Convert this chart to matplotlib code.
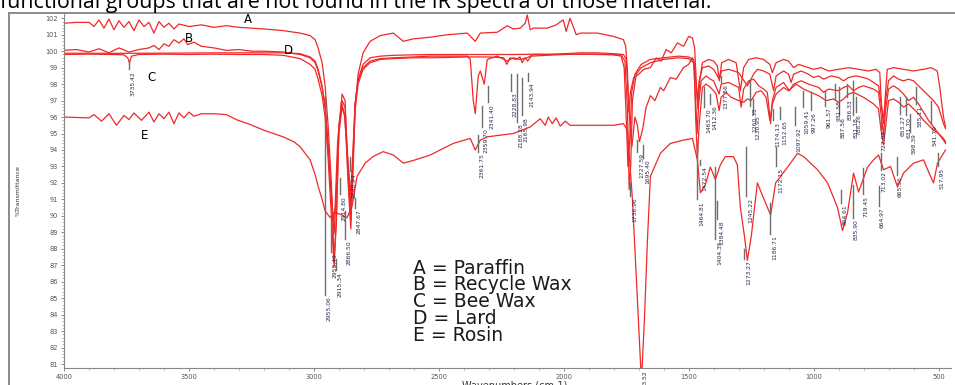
import matplotlib.pyplot as plt
from matplotlib.lines import Line2D

# spectra: wavenumber (cm-1), %T
wn_a = [4000, 3950, 3900, 3880, 3860, 3840, 3820, 3800, 3780, 3760, 3740, 3720, 3700, 3680, 3660, 3640,
        3620, 3600, 3580, 3560, 3540, 3500, 3450, 3400, 3350, 3300, 3200, 3123, 3055, 3015, 2995, 2983,
        2967, 2955, 2943, 2930, 2919, 2910, 2900, 2887, 2875, 2865, 2852, 2845, 2835, 2823, 2803, 2775,
        2734, 2682, 2642, 2602, 2534, 2466, 2386, 2354, 2334, 2266, 2226, 2202, 2174, 2154, 2146, 2134,
        2122, 2066, 2030, 2002, 1990, 1975, 1962, 1950, 1933, 1865, 1801, 1761, 1752, 1745, 1740, 1733,
        1720, 1700, 1680, 1653, 1630, 1610, 1590, 1570, 1545, 1520, 1500, 1485, 1476, 1469, 1463, 1456,
        1445, 1420, 1400, 1385, 1377, 1368, 1340, 1310, 1293, 1280, 1260, 1230, 1200, 1175, 1165, 1150,
        1120, 1100, 1080, 1060, 1040, 1000, 970, 940, 900, 860, 820, 780, 750, 735, 728, 720, 712,
        705, 680, 640, 600, 560, 530, 505, 495, 480, 472]
t_a = [101.7, 101.75, 101.75, 101.5, 101.9, 101.4, 101.95, 101.3, 101.85, 101.45, 101.8, 101.25, 101.9,
       101.5, 101.75, 101.1, 101.8, 101.45, 101.7, 101.35, 101.65, 101.5, 101.6, 101.45, 101.55, 101.45,
       101.35, 101.25, 101.1, 100.95, 100.7, 100.2, 99.3, 97.9, 95.5, 92.0, 87.3, 89.5, 95.0, 97.4, 97.0,
       93.0, 89.7, 92.0, 96.5, 98.6, 99.9, 100.6, 100.95, 101.1, 100.6, 100.75, 100.85, 101.0, 101.1,
       100.6, 101.1, 101.15, 101.55, 101.35, 101.4, 101.7, 102.2, 101.3, 101.4, 101.4, 101.6, 101.9,
       101.2, 102.0, 101.5, 101.0, 101.1, 101.1, 100.9, 100.7, 100.3, 98.8, 96.3, 97.5, 98.4, 98.6, 98.9,
       99.0, 99.6, 99.4, 100.1, 99.9, 100.5, 100.3, 100.9, 100.8, 100.2, 98.0, 96.5, 98.2, 99.3, 99.5,
       99.4, 99.1, 98.2, 99.3, 99.5, 99.3, 97.6, 99.0, 99.5, 99.6, 99.5, 99.2, 98.7, 99.3, 99.5, 99.4,
       99.0, 99.2, 99.1, 98.9, 99.0, 98.8, 98.9, 99.0, 98.9, 98.8, 98.9, 98.7, 96.6, 95.6, 97.5, 98.9,
       99.0, 98.9, 98.8, 98.9, 99.0, 98.8, 97.8, 96.0, 95.4]

wn_b = [4000, 3950, 3900, 3860, 3820, 3780, 3740, 3700, 3660, 3640, 3620, 3600, 3580, 3560, 3540, 3520,
        3505, 3480, 3450, 3400, 3350, 3300, 3250, 3200, 3123, 3055, 3015, 2995, 2983, 2967, 2955, 2943,
        2930, 2919, 2910, 2900, 2887, 2875, 2863, 2852, 2845, 2835, 2823, 2803, 2775, 2734, 2682, 2602,
        2534, 2466, 2386, 2374, 2362, 2354, 2342, 2334, 2318, 2306, 2266, 2226, 2202, 2174, 2146, 2122,
        2066, 2002, 1933, 1865, 1801, 1761, 1750, 1740, 1733, 1727, 1715, 1705, 1697, 1685, 1670, 1653,
        1635, 1613, 1600, 1573, 1550, 1521, 1500, 1485, 1478, 1472, 1465, 1458, 1445, 1430, 1413, 1400,
        1390, 1378, 1370, 1350, 1330, 1300, 1280, 1265, 1250, 1230, 1210, 1190, 1175, 1165, 1150, 1120,
        1100, 1070, 1040, 1010, 980, 950, 920, 900, 880, 860, 840, 800, 780, 760, 740, 730, 720, 712,
        700, 680, 660, 640, 620, 600, 580, 560, 540, 520, 500, 480, 472]
t_b = [100.05, 100.1, 99.95, 100.15, 99.9, 100.2, 99.95, 100.1, 100.2, 100.35, 100.1, 100.45, 100.3,
       100.7, 100.5, 100.75, 100.4, 100.55, 100.3, 100.2, 100.05, 100.1, 100.0, 100.0, 99.95, 99.8, 99.6,
       99.3, 98.8, 97.8, 96.8, 94.5, 91.0, 88.9, 91.5, 95.5, 97.0, 96.6, 93.0, 90.4, 93.0, 96.8, 98.2,
       99.0, 99.4, 99.55, 99.6, 99.65, 99.7, 99.7, 99.7, 99.5, 97.0, 96.2, 98.5, 98.8, 98.0, 99.5, 99.7,
       99.4, 99.6, 99.5, 99.6, 99.8, 99.8, 99.85, 99.9, 99.9, 99.85, 99.8, 99.5, 97.0, 95.0, 94.2, 96.0,
       95.5, 94.5, 95.2, 96.6, 97.3, 97.0, 97.8, 97.6, 98.4, 98.3, 99.0, 99.2, 99.6, 99.2, 96.0, 93.5,
       95.5, 97.8, 98.0, 97.8, 97.6, 97.4, 96.4, 97.2, 97.5, 97.2, 97.0, 96.9, 97.1, 97.0, 97.5, 97.6,
       97.2, 95.8, 96.8, 97.4, 97.8, 97.6, 98.0, 97.7, 97.5, 97.3, 97.0, 97.1, 96.9, 97.1, 97.4, 97.5,
       97.2, 97.0, 96.8, 96.5, 95.2, 94.3, 95.4, 97.0, 97.1, 96.9, 96.6, 96.8, 96.5, 96.2, 95.8, 95.5,
       95.2, 95.0, 94.6, 94.4]

wn_c = [4000, 3900, 3800, 3760, 3745, 3738, 3730, 3700, 3600, 3500, 3400, 3300, 3200, 3123, 3055, 3015,
        2995, 2983, 2967, 2955, 2943, 2930, 2919, 2910, 2900, 2887, 2875, 2863, 2852, 2845, 2835, 2823,
        2803, 2775, 2734, 2682, 2602, 2534, 2466, 2386, 2300, 2240, 2228, 2215, 2190, 2175, 2166, 2155,
        2144, 2130, 2066, 2002, 1933, 1865, 1801, 1770, 1755, 1745, 1738, 1732, 1725, 1710, 1690, 1653,
        1600, 1540, 1500, 1480, 1472, 1466, 1460, 1450, 1430, 1413, 1400, 1378, 1370, 1340, 1300, 1290,
        1280, 1260, 1240, 1220, 1200, 1185, 1172, 1165, 1150, 1120, 1097, 1080, 1050, 1020, 1000, 980,
        960, 940, 900, 880, 860, 840, 820, 800, 780, 760, 740, 730, 720, 712, 700, 680, 660, 640, 620,
        600, 580, 560, 540, 520, 500, 480, 472]
t_c = [99.8, 99.82, 99.8, 99.78, 99.6, 99.3, 99.7, 99.8, 99.82, 99.8, 99.82, 99.8, 99.8, 99.75, 99.55,
       99.2, 98.9, 98.3, 97.3, 96.0, 93.5, 90.0, 86.9, 90.0, 95.0, 96.6, 96.0, 92.0, 89.2, 92.5, 96.4,
       98.0, 98.9, 99.3, 99.5, 99.55, 99.6, 99.6, 99.62, 99.65, 99.65, 99.6, 99.2, 99.6, 99.5, 99.65,
       99.3, 99.6, 99.4, 99.7, 99.75, 99.8, 99.82, 99.82, 99.8, 99.75, 99.4, 96.5, 91.6, 93.0, 97.0,
       98.6, 99.0, 99.3, 99.5, 99.6, 99.55, 99.3, 97.0, 95.0, 96.8, 98.2, 98.5, 98.3, 98.2, 97.4, 98.0,
       98.1, 97.8, 96.6, 97.7, 98.2, 98.3, 97.9, 97.7, 97.5, 95.6, 97.0, 97.8, 98.1, 97.6, 98.0, 98.2,
       98.0, 97.9, 97.8, 97.5, 97.7, 97.6, 97.8, 97.9, 97.6, 97.8, 97.9, 97.8, 97.7, 97.5, 96.2, 94.9,
       96.4, 97.7, 97.9, 97.7, 97.4, 97.0, 97.2, 96.8, 96.3, 95.8, 95.4, 95.0, 94.7, 94.5]

wn_d = [4000, 3800, 3600, 3400, 3300, 3200, 3107, 3055, 3015, 2995, 2983, 2967, 2955, 2943, 2930, 2922,
        2915, 2905, 2890, 2878, 2863, 2853, 2845, 2835, 2823, 2803, 2775, 2734, 2682, 2602, 2534, 2466,
        2386, 2300, 2200, 2100, 2000, 1933, 1865, 1801, 1770, 1758, 1750, 1743, 1736, 1728, 1715, 1690,
        1653, 1600, 1540, 1500, 1480, 1472, 1465, 1458, 1445, 1420, 1400, 1378, 1368, 1340, 1300, 1265,
        1240, 1225, 1200, 1175, 1160, 1150, 1120, 1100, 1090, 1080, 1050, 1020, 1000, 980, 960, 930,
        900, 880, 860, 830, 800, 780, 760, 740, 730, 720, 712, 700, 680, 660, 640, 620, 600, 580, 560,
        540, 520, 500, 480, 472]
t_d = [99.88, 99.87, 99.88, 99.9, 99.9, 99.9, 99.9, 99.85, 99.65, 99.4, 98.9, 97.9, 96.5, 94.0, 91.5,
       89.7, 90.5, 94.5, 96.9, 96.2, 93.2, 91.3, 93.5, 96.8, 98.3, 99.2, 99.6, 99.7, 99.75, 99.78, 99.8,
       99.8, 99.8, 99.8, 99.8, 99.82, 99.8, 99.82, 99.8, 99.78, 99.7, 99.0, 96.0, 93.0, 94.5, 97.5,
       98.6, 99.2, 99.5, 99.6, 99.7, 99.65, 99.5, 98.3, 97.0, 98.2, 99.0, 99.1, 98.9, 98.3, 98.8, 98.9,
       98.7, 97.9, 98.6, 98.9, 98.8, 98.6, 97.6, 98.5, 98.8, 98.6, 98.1, 98.6, 98.8, 98.6, 98.4, 98.5,
       98.3, 98.5, 98.4, 98.2, 98.4, 98.5, 98.4, 98.3, 98.1, 97.9, 96.9, 95.8, 97.0, 98.2, 98.5, 98.3,
       98.2, 98.3, 98.2, 97.9, 97.6, 97.3, 97.0, 96.6, 95.6, 95.3]

wn_e = [4000, 3900, 3880, 3850, 3820, 3790, 3760, 3740, 3720, 3690, 3660, 3640, 3620, 3600, 3580, 3560,
        3540, 3520, 3500, 3480, 3450, 3400, 3350, 3307, 3255, 3200, 3123, 3080, 3055, 3015, 2995, 2983,
        2967, 2955, 2935, 2920, 2895, 2867, 2847, 2827, 2795, 2763, 2723, 2682, 2642, 2594, 2534, 2442,
        2374, 2354, 2334, 2306, 2202, 2134, 2094, 2074, 2062, 2046, 2030, 2014, 1994, 1974, 1893, 1801,
        1761, 1745, 1725, 1705, 1689, 1677, 1665, 1653, 1613, 1573, 1521, 1485, 1465, 1453, 1433, 1413,
        1393, 1373, 1353, 1321, 1305, 1293, 1277, 1265, 1249, 1225, 1201, 1172, 1152, 1104, 1064, 1040,
        1012, 984, 944, 904, 884, 864, 840, 820, 784, 760, 740, 720, 692, 664, 640, 600, 560, 532, 520,
        504, 472]
t_e = [96.0, 95.95, 96.15, 95.75, 96.2, 95.5, 96.1, 95.85, 96.25, 95.8, 96.3, 95.7, 96.2, 95.9, 96.3,
       95.6, 96.25, 95.95, 96.3, 96.05, 96.2, 96.2, 96.15, 95.82, 95.55, 95.2, 94.8, 94.5, 94.2, 93.4,
       92.5, 91.8, 91.0, 90.3, 89.9, 90.2, 90.1, 89.9, 90.6, 92.4, 93.2, 93.6, 93.9, 93.7, 93.2, 93.4,
       93.7, 94.4, 94.7, 94.0, 94.6, 94.8, 95.0, 95.4, 95.9, 95.5, 96.0, 95.6, 95.95, 95.45, 95.75, 95.5,
       95.5, 95.5, 95.6, 95.2, 91.0, 84.9, 79.9, 83.7, 88.5, 92.4, 93.8, 94.4, 94.6, 94.7, 93.4, 91.4,
       91.9, 92.96, 92.2, 93.1, 93.6, 93.6, 93.1, 90.5, 88.8, 87.3, 88.8, 92.0, 91.1, 90.05, 92.0, 92.96,
       93.8, 93.6, 93.2, 92.8, 92.0, 90.5, 89.1, 90.2, 92.6, 91.45, 92.96, 93.4, 93.7, 92.8, 93.0, 91.75,
       92.6, 93.2, 93.4, 92.4, 92.0, 93.2, 94.0]

# curve letters
letter_txt = ["A", "B", "C", "D", "E"]
letter_wn = [3265, 3500, 3648, 3100, 3677]
letter_t = [101.9, 100.8, 98.4, 100.05, 94.85]

legend_lines = ["A = Paraffin", "B = Recycle Wax", "C = Bee Wax", "D = Lard", "E = Rosin"]

# peak markers: wavenumber, top and bottom of the grey line (%T), label
peak_wn = [3740, 2955, 2931, 2911, 2895, 2875, 2855, 2835, 2342, 2326, 2302, 2210, 2186, 2166, 2142,
           1733, 1705, 1681, 1465, 1453, 1437, 1413, 1393, 1385, 1369, 1253, 1241, 1277, 1269, 1173,
           1161, 1149, 1133, 1076, 1044, 1012, 955, 915, 899, 891, 868, 844, 844, 832, 804, 732, 732,
           740, 668, 656, 632, 616, 592, 532, 504]
peak_top = [99.4, 97.2, 89.8, 87.4, 92.3, 90.3, 93.6, 91.1, 94.9, 96.7, 97.9, 98.6, 98.6, 98.4, 98.7,
            92.0, 94.6, 94.3, 94.3, 93.4, 97.8, 97.4, 92.96, 90.9, 98.5, 98.2, 97.1, 88.0, 94.2, 90.8,
            96.5, 94.2, 96.6, 96.6, 97.6, 97.5, 97.6, 98.0, 97.8, 91.6, 98.0, 91.9, 98.2, 97.2, 92.9,
            96.0, 93.8, 91.8, 93.6, 97.2, 97.2, 96.2, 97.8, 97.0, 93.8]
peak_bot = [98.9, 85.2, 87.8, 86.7, 91.3, 88.6, 92.7, 90.5, 93.9, 95.4, 96.9, 97.6, 95.7, 96.1, 98.2,
            91.2, 93.9, 93.5, 91.0, 93.1, 96.6, 96.8, 88.6, 89.8, 98.1, 96.7, 96.2, 87.4, 91.2, 88.9,
            95.8, 93.0, 95.9, 95.5, 96.6, 96.4, 96.7, 97.1, 96.1, 90.8, 97.2, 89.9, 96.1, 96.3, 91.3,
            95.3, 92.8, 90.6, 92.5, 96.2, 96.1, 95.1, 96.8, 95.6, 93.0]
peak_txt = ["3735.42", "2955.06", "2955.49", "2915.34", "2914.80", "2866.50", "2848.94", "2847.67",
            "2361.75", "2359.70", "2341.40", "2228.83", "2188.28", "2165.98", "2143.94",
            "1736.96", "1727.59", "1695.40", "1464.81", "1472.54", "1463.70", "1412.36", "1404.35",
            "1384.48", "1377.56", "1260.35", "1230.95", "1273.27", "1245.22", "1186.71",
            "1174.13", "1172.15", "1152.65", "1097.92", "1059.41", "997.26", "961.57", "931.58",
            "887.56", "864.61", "836.33", "835.90", "831.18", "788.26", "719.45", "727.98", "713.02",
            "664.97", "665.36", "653.27", "631.70", "598.39", "585.11", "541.79", "517.95"]

red = "#f02828"
grey = "#6e6e6e"

fig = plt.figure(figsize=(9.55, 3.85), dpi=100)
ax = fig.add_axes([64 / 955, 17 / 385, 887 / 955, 355 / 385])

for wn, t in [(wn_a, t_a), (wn_b, t_b), (wn_c, t_c), (wn_d, t_d), (wn_e, t_e)]:
    ax.plot(wn, t, color=red, linewidth=0.9)

for w, top, bot, txt in zip(peak_wn, peak_top, peak_bot, peak_txt):
    ax.plot([w, w], [top, bot], color=grey, linewidth=1.0)
    ax.text(w - 6, bot - 0.1, txt, rotation=90, fontsize=4.3, color="#2a2a4a",
            ha="left", va="top")

# the rosin band runs off the bottom, its label sits under the axis
ax.text(1685, 80.6, "1693.52", rotation=90, fontsize=4.3, color="#2a2a4a",
        ha="left", va="top", clip_on=False)

for txt, w, t in zip(letter_txt, letter_wn, letter_t):
    ax.text(w, t, txt, fontsize=8.5, color="black", ha="center", va="center")

for i, line in enumerate(legend_lines):
    ax.text(2602, 86.83 - i * 1.02, line, fontsize=13.5, color="#1a1a1a",
            family="DejaVu Sans", ha="left", va="center")

ax.set_xlim(4000, 450)
ax.set_ylim(80.76, 102.32)
ax.set_xticks([4000, 3500, 3000, 2500, 2000, 1500, 1000, 500])
ax.set_xticks(range(500, 4001, 100), minor=True)
ax.set_yticks(range(81, 103))
ax.set_yticks([81 + 0.2 * k for k in range(106)], minor=True)
ax.tick_params(labelsize=4.8, labelcolor="#555555", color="#777777", length=2.5, width=0.6, pad=2)
ax.tick_params(which="minor", color="#999999", length=1.3, width=0.5)
for s in ["top", "right"]:
    ax.spines[s].set_visible(False)
for s in ["left", "bottom"]:
    ax.spines[s].set_color("#888888")
    ax.spines[s].set_linewidth(0.8)

fig.text(18 / 955, 1 - 191 / 385, "%Transmittance", rotation=90, fontsize=4.5,
         color="#333333", ha="center", va="center")
fig.text(515 / 955, 1 - 381 / 385, "Wavenumbers (cm-1)", fontsize=7, color="#333333",
         ha="center", va="top")

# slide text cut off at the top and the outer frame of the pasted chart
fig.text(0, 1 - 8 / 385, "functional groups that are not found in the IR spectra of those material.",
         fontsize=15.4, family="Open Sans", color="black", ha="left", va="baseline")
fig.add_artist(Line2D([9 / 955, 1], [1 - 13 / 385, 1 - 13 / 385], color="#8a8a8a", linewidth=1.4))
fig.add_artist(Line2D([9 / 955, 9 / 955], [0, 1 - 13 / 385], color="#8a8a8a", linewidth=1.4))

fig.savefig("out.png", dpi=100)
